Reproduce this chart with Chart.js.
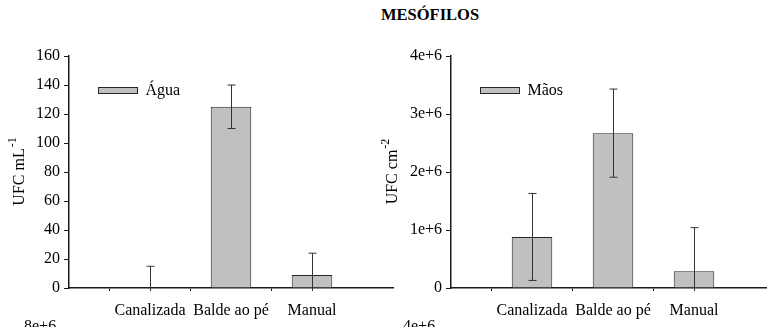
<!DOCTYPE html>
<html>
<head>
<meta charset="utf-8">
<script src="https://cdn.jsdelivr.net/npm/chart.js@4.4.1/dist/chart.umd.min.js"></script>
<style>
  html, body { margin: 0; padding: 0; background: #fff; }
  body { width: 767px; height: 327px; position: relative; overflow: hidden; font-family: 'Liberation Serif', serif; }
  .panel { position: absolute; top: 0; height: 327px; }
  #title { position: absolute; top: 7px; left: 381px; font-size: 16.5px; font-weight: bold; line-height: 16px; }
  .cut { position: absolute; top: 318px; font-size: 16px; line-height: 16px; }
</style>
</head>
<body>
<div id="title">MESÓFILOS</div>
<div class="panel" style="left:0"><canvas id="aguaChart" width="403" height="327"></canvas></div>
<div class="panel" style="left:380px"><canvas id="maosChart" width="405" height="327"></canvas></div>
<div class="cut" style="left:24px">8e+6</div>
<div class="cut" style="left:403px">4e+6</div>
<script>
const categories = ['Canalizada', 'Balde ao pé', 'Manual'];
const aguaMeans = [0, 125, 9];
const aguaErrors = [15, 15, 15];
const maosMeans = [880000, 2670000, 290000];
const maosErrors = [750000, 760000, 750000];
const aguaTicks = [0, 20, 40, 60, 80, 100, 120, 140, 160];
const maosTicks = [0, 1000000, 2000000, 3000000, 4000000];

const FAMILY = '"Liberation Serif", serif';
const FONT = { family: FAMILY, size: 16 };
const INK = '#1a1a1a';

// category slots with an empty slot at each end, so bars sit at 1..3
const xLabels = ['', ...categories, ''];
const pad = arr => [null, ...arr, null];

const errorBars = {
    id: 'errorBars',
    afterDatasetsDraw(chart, args, opts) {
        const ctx = chart.ctx;
        const y = chart.scales.y;
        const meta = chart.getDatasetMeta(0);
        const means = chart.data.datasets[0].data;
        ctx.save();
        ctx.strokeStyle = '#333';
        ctx.lineWidth = 1;
        means.forEach((m, i) => {
            if (m === null) return;
            const err = opts.errors[i - 1];
            const x = Math.round(meta.data[i].x) + 0.5;
            const top = y.getPixelForValue(m + err);
            const low = m - err;
            const bot = y.getPixelForValue(Math.max(low, 0));
            ctx.beginPath();
            ctx.moveTo(x, top);
            ctx.lineTo(x, bot + (low > 0 ? 0 : 3));
            ctx.moveTo(x - 4, top);
            ctx.lineTo(x + 4, top);
            if (low > 0) {
                ctx.moveTo(x - 4, bot);
                ctx.lineTo(x + 4, bot);
            }
            ctx.stroke();
        });
        ctx.restore();
    }
};

const sideText = {
    id: 'sideText',
    afterDraw(chart, args, opts) {
        const ctx = chart.ctx;
        const area = chart.chartArea;
        // y axis title with superscript
        ctx.save();
        ctx.fillStyle = '#000';
        ctx.translate(opts.titleX, (area.top + area.bottom) / 2);
        ctx.rotate(-Math.PI / 2);
        ctx.font = '16px ' + FAMILY;
        const w1 = ctx.measureText(opts.title).width;
        ctx.font = '12px ' + FAMILY;
        const w2 = ctx.measureText(opts.sup).width;
        const start = -(w1 + w2) / 2;
        ctx.textBaseline = 'middle';
        ctx.font = '16px ' + FAMILY;
        ctx.fillText(opts.title, start, 0);
        ctx.font = '12px ' + FAMILY;
        ctx.fillText(opts.sup, start + w1 + 1, -7);
        ctx.restore();

        // legend
        const ds = chart.data.datasets[0];
        ctx.save();
        ctx.fillStyle = ds.backgroundColor;
        ctx.strokeStyle = ds.borderColor;
        ctx.lineWidth = 1;
        const bx = area.left + 29.5, by = 87.5;
        ctx.fillRect(bx, by, 39, 6);
        ctx.strokeRect(bx, by, 39, 6);
        ctx.fillStyle = '#000';
        ctx.font = '16px ' + FAMILY;
        ctx.textBaseline = 'middle';
        ctx.fillText(ds.label, bx + 47, by + 3);
        ctx.restore();
    }
};

function makeChart(id, label, means, errors, ticks, yWidth, fmt, title, sup, titleX) {
    const ctx = document.getElementById(id).getContext('2d');
    return new Chart(ctx, {
        type: 'bar',
        data: {
            labels: xLabels,
            datasets: [{
                label: label,
                data: pad(means),
                backgroundColor: '#c0c0c0',
                borderColor: '#262626',
                borderWidth: 1,
                barPercentage: 0.5,
                categoryPercentage: 1
            }]
        },
        options: {
            responsive: false,
            animation: false,
            layout: { padding: { top: 56, left: 0, right: 10, bottom: 0 } },
            scales: {
                x: {
                    offset: false,
                    afterFit: s => { s.height = 39; },
                    grid: {
                        drawOnChartArea: false,
                        tickLength: 3,
                        color: c => (c.index === 0 || c.index === xLabels.length - 1) ? 'rgba(0,0,0,0)' : INK
                    },
                    border: { color: INK, width: 1.5 },
                    ticks: { font: FONT, color: '#000', padding: 10, maxRotation: 0, autoSkip: false }
                },
                y: {
                    min: ticks[0],
                    max: ticks[ticks.length - 1],
                    afterFit: s => { s.width = yWidth; },
                    afterBuildTicks: s => { s.ticks = ticks.map(v => ({ value: v })); },
                    grid: { drawOnChartArea: false, tickLength: 5, color: INK },
                    border: { color: INK, width: 1.5 },
                    ticks: { font: FONT, color: '#000', padding: 4, callback: fmt }
                }
            },
            plugins: {
                legend: { display: false },
                tooltip: { enabled: false },
                errorBars: { errors: errors },
                sideText: { title: title, sup: sup, titleX: titleX }
            }
        },
        plugins: [errorBars, sideText]
    });
}

function drawAll() {
    Chart.defaults.font.family = FAMILY;
    makeChart('aguaChart', 'Água', aguaMeans, aguaErrors, aguaTicks, 69,
        v => String(v), 'UFC mL', '-1', 20);
    makeChart('maosChart', 'Mãos', maosMeans, maosErrors, maosTicks, 71,
        v => v === 0 ? '0' : (v / 1000000) + 'e+6', 'UFC cm', '-2', 13);
}

document.fonts.load('16px "Liberation Serif"').then(drawAll, drawAll);
</script>
</body>
</html>
